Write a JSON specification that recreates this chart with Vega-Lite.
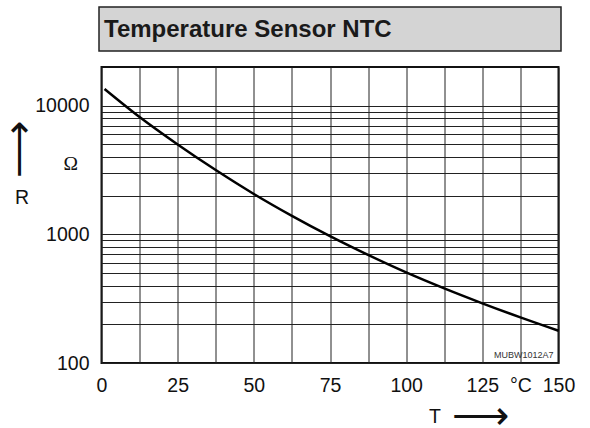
{
  "$schema": "https://vega.github.io/schema/vega-lite/v6.json",
  "padding": {"left": -2, "top": 6, "right": 5, "bottom": 5},
  "background": "white",
  "spacing": 16,
  "bounds": "flush",
  "center": true,
  "config": {
    "font": "Liberation Sans",
    "axis": {"labelFont": "Liberation Sans", "titleFont": "Liberation Sans", "labelColor": "#111", "titleColor": "#111"}
  },
  "vconcat": [
    {
      "width": 462,
      "height": 44,
      "view": {"fill": "#d4d4d4", "stroke": "#222", "strokeWidth": 1.5},
      "title": {
        "text": "Temperature Sensor NTC",
        "orient": "top",
        "anchor": "start",
        "frame": "group",
        "offset": -53.5,
        "dx": 5,
        "baseline": "alphabetic",
        "font": "Liberation Sans",
        "fontSize": 24,
        "fontWeight": "bold",
        "color": "#1a1a1a"
      },
      "data": {"values": [{"label": ""}]},
      "mark": {"type": "text"},
      "encoding": {"text": {"field": "label"}}
    },
    {
      "width": 457,
      "height": 296,
      "view": {"stroke": "#111", "strokeWidth": 2},
      "resolve": {"scale": {"x": "independent", "y": "independent"}, "axis": {"x": "independent", "y": "independent"}},
      "layer": [
        {
          "data": {"values": [
            {"T": 1, "R": 13500},
            {"T": 12.5, "R": 8170},
            {"T": 25, "R": 5000},
            {"T": 37.5, "R": 3162},
            {"T": 50, "R": 2061},
            {"T": 62.5, "R": 1393},
            {"T": 75, "R": 968},
            {"T": 87.5, "R": 692},
            {"T": 100, "R": 506},
            {"T": 112.5, "R": 380},
            {"T": 125, "R": 291},
            {"T": 137.5, "R": 226},
            {"T": 150, "R": 178}
          ]},
          "mark": {"type": "line", "color": "#000", "strokeWidth": 2.5, "interpolate": "monotone"},
          "encoding": {
            "x": {
              "field": "T", "type": "quantitative",
              "scale": {"domain": [0, 150], "nice": false, "zero": false},
              "axis": {
                "values": [0, 12.5, 25, 37.5, 50, 62.5, 75, 87.5, 100, 112.5, 125, 137.5, 150],
                "labelExpr": "datum.value == 137.5 ? '°C' : (datum.value % 25 == 0 ? datum.label : '')",
                "format": "d",
                "grid": true, "gridColor": "#222", "gridWidth": 1, "gridOpacity": 1,
                "domain": false, "ticks": false,
                "labelFontSize": 19.5, "labelPadding": 13, "labelOverlap": false, "labelFlush": false, "labelBound": false,
                "title": "T", "titleFontSize": 19.5, "titleFontWeight": "normal",
                "titleX": 333, "titleY": 53, "titleAlign": "center", "titleBaseline": "middle", "titleAnchor": null
              }
            },
            "y": {
              "field": "R", "type": "quantitative",
              "scale": {"type": "log", "domain": [100, 20000], "nice": false},
              "axis": {
                "values": [100, 200, 300, 400, 500, 600, 700, 800, 900, 1000, 2000, 3000, 4000, 5000, 6000, 7000, 8000, 9000, 10000],
                "format": "d",
                "labelExpr": "datum.value == 4000 ? 'Ω' : ((datum.value == 100 || datum.value == 1000 || datum.value == 10000) ? datum.label : '')",
                "grid": true, "gridColor": "#222", "gridWidth": 1, "gridOpacity": 1,
                "domain": false, "ticks": false,
                "labelFontSize": 19.5, "labelOverlap": false, "labelFlush": false, "labelBound": false,
                "labelPadding": {"condition": {"test": "datum.value == 4000", "value": 24}, "value": 12.5},
                "labelOffset": {"condition": {"test": "datum.value == 4000", "value": 7}, "value": 0},
                "labelFont": {"condition": {"test": "datum.value == 4000", "value": "Liberation Serif"}, "value": "Liberation Sans"},
                "title": "R", "titleFontSize": 19.5, "titleFontWeight": "normal", "titleAngle": 0,
                "titleX": -80, "titleY": 130, "titleAlign": "center", "titleBaseline": "middle", "titleAnchor": null
              }
            }
          }
        },
        {
          "data": {"values": [{"T": 148.4, "R": 115, "code": "MUBW1012A7"}]},
          "mark": {"type": "text", "align": "right", "baseline": "middle", "fontSize": 9, "font": "Liberation Sans", "color": "#333"},
          "encoding": {
            "x": {
              "field": "T", "type": "quantitative",
              "scale": {"domain": [0, 150], "nice": false, "zero": false},
              "axis": {
                "orient": "top", "labels": false, "ticks": false, "domain": false, "grid": false,
                "title": "⟶", "titleFont": "DejaVu Sans", "titleFontSize": 40, "titleFontWeight": 200,
                "titleX": 378, "titleY": 349, "titleAlign": "center", "titleBaseline": "middle", "titleAnchor": null
              }
            },
            "y": {
              "field": "R", "type": "quantitative",
              "scale": {"type": "log", "domain": [100, 20000], "nice": false},
              "axis": {
                "orient": "right", "labels": false, "ticks": false, "domain": false, "grid": false,
                "title": "⟶", "titleFont": "DejaVu Sans", "titleFontSize": 40, "titleFontWeight": 200, "titleAngle": -90,
                "titleX": -539.5, "titleY": 82, "titleAlign": "center", "titleBaseline": "middle", "titleAnchor": null
              }
            },
            "text": {"field": "code"}
          }
        }
      ]
    }
  ]
}
